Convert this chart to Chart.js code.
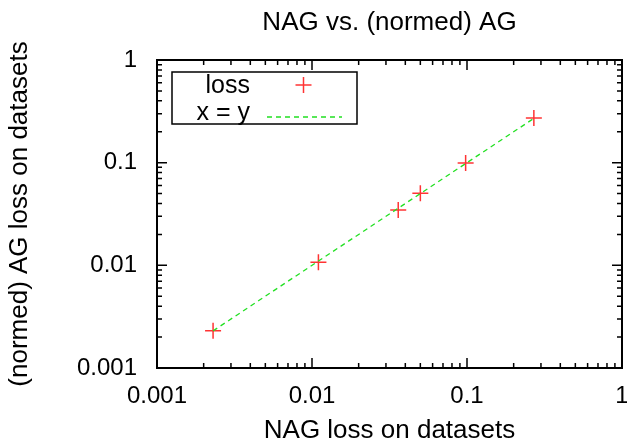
<!DOCTYPE html>
<html>
<head>
<meta charset="utf-8">
<script src="https://cdn.jsdelivr.net/npm/chart.js@4/dist/chart.umd.min.js"></script>
<style>
  html, body { margin: 0; padding: 0; background: #fff; }
  #wrap { width: 627px; height: 446px; }
</style>
</head>
<body>
<div id="wrap"><canvas id="chart" width="627" height="446"></canvas></div>
<script>
// data
const nagLoss = [0.0023, 0.011, 0.036, 0.050, 0.098, 0.27];
const agLoss = [0.0023, 0.0107, 0.0345, 0.0505, 0.099, 0.272];
const lineEnds = [0.0023, 0.27];
const majorTicks = [0.001, 0.01, 0.1, 1];
const minorFactors = [2, 3, 4, 5, 6, 7, 8, 9];
const chartTitle = 'NAG vs. (normed) AG';

const FONT = "'Liberation Sans', Arial, Helvetica, sans-serif";

// every tick mark (major + minor) inside the axis range
function allTicks() {
    const list = [];
    majorTicks.forEach((m, i) => {
        list.push({ v: m, major: true });
        if (i < majorTicks.length - 1) {
            minorFactors.forEach(f => list.push({ v: m * f, major: false }));
        }
    });
    return list;
}

// gnuplot-style frame with inward ticks on all four sides
const framePlugin = {
    id: 'frame',
    beforeDatasetsDraw(chart) {
        const ctx = chart.ctx;
        const a = chart.chartArea;
        const xs = chart.scales.x, ys = chart.scales.y;
        ctx.save();
        ctx.strokeStyle = '#000';
        ctx.lineWidth = 1.5;
        allTicks().forEach(t => {
            const len = t.major ? 10 : 5;
            const px = xs.getPixelForValue(t.v);
            const py = ys.getPixelForValue(t.v);
            ctx.beginPath();
            ctx.moveTo(px, a.bottom); ctx.lineTo(px, a.bottom - len);
            ctx.moveTo(px, a.top); ctx.lineTo(px, a.top + len);
            ctx.moveTo(a.left, py); ctx.lineTo(a.left + len, py);
            ctx.moveTo(a.right, py); ctx.lineTo(a.right - len, py);
            ctx.stroke();
        });
        ctx.lineWidth = 2;
        ctx.strokeRect(a.left, a.top, a.right - a.left, a.bottom - a.top);

        // title centred over the plot frame, as gnuplot does
        ctx.font = '26px ' + FONT;
        ctx.fillStyle = '#000';
        ctx.textAlign = 'center';
        ctx.textBaseline = 'alphabetic';
        ctx.fillText(chartTitle, (a.left + a.right) / 2, a.top - 30);
        ctx.restore();
    },
    afterDraw(chart) {
        // legend box, text right-aligned then sample
        const ctx = chart.ctx;
        const a = chart.chartArea;
        const bx = a.left + 15, by = a.top + 12, bw = 185, bh = 52;
        ctx.save();
        ctx.fillStyle = '#fff';
        ctx.fillRect(bx, by, bw, bh);
        ctx.strokeStyle = '#000';
        ctx.lineWidth = 1.5;
        ctx.strokeRect(bx, by, bw, bh);
        ctx.font = '25px ' + FONT;
        ctx.fillStyle = '#000';
        ctx.textAlign = 'right';
        ctx.textBaseline = 'alphabetic';
        const ds = chart.data.datasets;
        ds.forEach((d, i) => {
            const base = by + 21 + i * 27;
            const cy = base - 8;
            ctx.fillText(d.label, bx + 78, base);
            const sx = bx + 95, ex = bx + 170;
            ctx.strokeStyle = d.borderColor;
            ctx.lineWidth = d.borderWidth;
            if (d.showLine) {
                ctx.setLineDash(d.borderDash);
                ctx.beginPath();
                ctx.moveTo(sx, cy + 5); ctx.lineTo(ex, cy + 5);
                ctx.stroke();
                ctx.setLineDash([]);
            } else {
                const mx = (sx + ex) / 2 - 1, r = d.pointRadius;
                ctx.beginPath();
                ctx.moveTo(mx - r, cy); ctx.lineTo(mx + r, cy);
                ctx.moveTo(mx, cy - r); ctx.lineTo(mx, cy + r);
                ctx.stroke();
            }
        });
        ctx.restore();
    }
};

const lossPoints = nagLoss.map((x, i) => ({ x: x, y: agLoss[i] }));
const diagPoints = lineEnds.map(v => ({ x: v, y: v }));

new Chart(document.getElementById('chart'), {
    type: 'scatter',
    data: {
        datasets: [{
            label: 'loss',
            data: lossPoints,
            showLine: false,
            pointStyle: 'cross',
            pointRadius: 8,
            borderColor: 'rgba(255,0,0,0.8)',
            backgroundColor: 'rgba(255,0,0,0.8)',
            borderWidth: 1.5,
            order: 2
        }, {
            label: 'x = y',
            data: diagPoints,
            showLine: true,
            pointRadius: 0,
            borderColor: '#22e022',
            borderWidth: 1.3,
            borderDash: [5, 4],
            order: 1
        }]
    },
    options: {
        responsive: false,
        animation: false,
        events: [],
        layout: { autoPadding: false, padding: { left: 0, right: 0, top: 60, bottom: 0 } },
        plugins: {
            legend: { display: false },
            tooltip: { enabled: false },
            title: { display: false }
        },
        scales: {
            x: {
                type: 'logarithmic',
                min: 0.001,
                max: 1,
                afterBuildTicks(scale) {
                    scale.ticks = majorTicks.map(v => ({ value: v }));
                },
                afterFit(scale) {
                    scale.height = 78;
                    scale.paddingLeft = 0;
                    scale.paddingRight = 5;
                },
                grid: { display: false, drawTicks: false },
                border: { display: false },
                ticks: {
                    color: '#000',
                    font: { family: FONT, size: 24 },
                    padding: 14,
                    maxRotation: 0,
                    autoSkip: false,
                    callback: v => String(v)
                },
                title: {
                    display: true,
                    text: 'NAG loss on datasets',
                    color: '#000',
                    font: { family: FONT, size: 26 },
                    padding: { top: 0, bottom: 0 }
                }
            },
            y: {
                type: 'logarithmic',
                min: 0.001,
                max: 1,
                afterBuildTicks(scale) {
                    scale.ticks = majorTicks.map(v => ({ value: v }));
                },
                afterFit(scale) {
                    scale.width = 157;
                    scale.paddingTop = 0;
                    scale.paddingBottom = 0;
                },
                grid: { display: false, drawTicks: false },
                border: { display: false },
                ticks: {
                    color: '#000',
                    font: { family: FONT, size: 24 },
                    padding: 20,
                    autoSkip: false,
                    callback: v => String(v)
                },
                title: {
                    display: true,
                    text: '(normed) AG loss on datasets',
                    color: '#000',
                    font: { family: FONT, size: 26 },
                    padding: { top: 4, bottom: 0 }
                }
            }
        }
    },
    plugins: [framePlugin]
});
</script>
</body>
</html>
